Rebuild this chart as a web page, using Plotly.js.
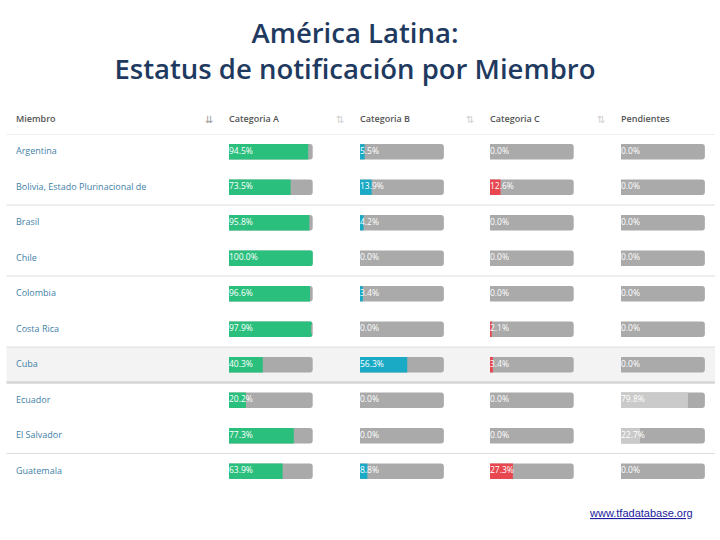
<!DOCTYPE html>
<html>
<head>
<meta charset="utf-8">
<script src="https://cdn.plot.ly/plotly-3.0.1.min.js"></script>
<style>html,body{margin:0;padding:0;background:#fff;}#chart{width:720px;height:540px;}</style>
</head>
<body>
<div id="chart"></div>
<script>
// ---- data ----
const members = ["Argentina", "Bolivia, Estado Plurinacional de", "Brasil", "Chile", "Colombia",
  "Costa Rica", "Cuba", "Ecuador", "El Salvador", "Guatemala"];
const columns = ["Categoria A", "Categoria B", "Categoria C", "Pendientes"];
const catA = [94.5, 73.5, 95.8, 100.0, 96.6, 97.9, 40.3, 20.2, 77.3, 63.9];
const catB = [5.5, 13.9, 4.2, 0.0, 3.4, 0.0, 56.3, 0.0, 0.0, 8.8];
const catC = [0.0, 12.6, 0.0, 0.0, 0.0, 2.1, 3.4, 0.0, 0.0, 27.3];
const pendientes = [0.0, 0.0, 0.0, 0.0, 0.0, 0.0, 0.0, 79.8, 22.7, 0.0];
const highlighted = "Cuba";
const sourceText = "www.tfadatabase.org";

// ---- styling ----
const seriesList = [catA, catB, catC, pendientes];
const colors = ["#2bbf7e", "#1aaac6", "#e8474f", "#cacaca"];
const trackColor = "#aaaaaa";
const domains = [[0.318, 0.4345], [0.5, 0.6165], [0.6805, 0.797], [0.8625, 0.979]];
const tableFont = "Open Sans, Lato, sans-serif";

const traces = [];
const layout = {
  width: 720, height: 540,
  margin: {l: 0, r: 0, t: 134, b: 51},
  paper_bgcolor: "#ffffff", plot_bgcolor: "rgba(0,0,0,0)",
  showlegend: false,
  barmode: "overlay",
  title: {
    text: "América Latina:<br>Estatus de notificación por Miembro",
    font: {family: "Open Sans, sans-serif", size: 27.5, color: "#1f3a60", weight: 600},
    x: 0.493, xanchor: "center", y: 0.92, yanchor: "middle", yref: "container"
  },
  yaxis: {
    type: "category", categoryorder: "array", categoryarray: members,
    range: [members.length - 0.5, -0.5],
    showticklabels: false, showgrid: false, zeroline: false, showline: false, fixedrange: true
  },
  annotations: [], shapes: []
};

// member names column
layout.xaxis5 = {domain: [16 / 720, 0.3], range: [0, 1], visible: false, anchor: "y"};
traces.push({
  type: "scatter", mode: "text", xaxis: "x5", yaxis: "y",
  x: members.map(() => 0), y: members, text: members,
  textposition: "middle right",
  textfont: {family: tableFont, size: 9, color: "#3f7fa8"},
  hoverinfo: "skip", cliponaxis: false
});

seriesList.forEach((vals, i) => {
  const ax = "x" + (i === 0 ? "" : (i + 1));
  const axKey = "xaxis" + (i === 0 ? "" : (i + 1));
  layout[axKey] = {domain: domains[i], range: [0, 100], visible: false, anchor: "y", fixedrange: true};
  // track
  traces.push({
    type: "bar", orientation: "h", xaxis: ax, yaxis: "y",
    x: members.map(() => 100), y: members, width: 0.43,
    marker: {color: trackColor, cornerradius: 3}, hoverinfo: "skip"
  });
  // value
  traces.push({
    type: "bar", orientation: "h", xaxis: ax, yaxis: "y",
    x: vals, y: members, width: 0.43,
    marker: {color: colors[i], cornerradius: 2}, hoverinfo: "x+y"
  });
  // labels
  traces.push({
    type: "scatter", mode: "text", xaxis: ax, yaxis: "y",
    x: vals.map(() => 0), y: members, text: vals.map(v => v.toFixed(1) + "%"),
    textposition: "middle right",
    textfont: {family: tableFont, size: 8.5, color: "#ffffff"},
    hoverinfo: "skip", cliponaxis: false
  });
  // header
  layout.annotations.push({
    xref: "paper", yref: "paper", x: domains[i][0] - 2 / 720, y: 1.045, xanchor: "left", yanchor: "middle",
    text: columns[i], showarrow: false,
    font: {family: tableFont, size: 9, color: "#555555", weight: 600}
  });
  if (i < 3) {
    layout.annotations.push({
      xref: "paper", yref: "paper", x: domains[i + 1][0] - 20 / 720, y: 1.04, xanchor: "center", yanchor: "middle",
      text: "⇅", showarrow: false, font: {family: "DejaVu Sans", size: 10, color: "#cfcfcf"}
    });
  }
});
// first header
layout.annotations.push({
  xref: "paper", yref: "paper", x: 14 / 720, y: 1.045, xanchor: "left", yanchor: "middle",
  text: "Miembro", showarrow: false, font: {family: tableFont, size: 9, color: "#555555", weight: 600}
});
layout.annotations.push({
  xref: "paper", yref: "paper", x: domains[0][0] - 20 / 720, y: 1.04, xanchor: "center", yanchor: "middle",
  text: "⇊", showarrow: false, font: {family: "DejaVu Sans", size: 10, color: "#9a9a9a"}
});
// source link
layout.annotations.push({
  xref: "paper", yref: "paper", x: 0.965, y: -0.068, xanchor: "right", yanchor: "middle",
  text: "<u>" + sourceText + "</u>", showarrow: false,
  font: {family: "Liberation Sans, Arial, sans-serif", size: 11, color: "#1a1aa0"}
});

// highlighted row and separator lines
const hi = members.indexOf(highlighted);
layout.shapes.push({
  type: "rect", xref: "paper", yref: "y", x0: 0.009, x1: 0.993, y0: hi - 0.5, y1: hi + 0.5,
  fillcolor: "#f3f3f3", line: {width: 0}, layer: "below"
});
const separators = [-0.5, 1.5, 3.5, 5.5, 8.5];
separators.forEach(s => layout.shapes.push({
  type: "line", xref: "paper", yref: "y", x0: 0.009, x1: 0.993, y0: s, y1: s,
  line: {color: "#dddddd", width: 1.2}, layer: "below"
}));
layout.shapes.push({
  type: "line", xref: "paper", yref: "y", x0: 0.009, x1: 0.993, y0: hi + 0.5, y1: hi + 0.5,
  line: {color: "#d6d6d6", width: 2.5}, layer: "below"
});

Plotly.newPlot("chart", traces, layout, {displayModeBar: false, staticPlot: true});
</script>
</body>
</html>
